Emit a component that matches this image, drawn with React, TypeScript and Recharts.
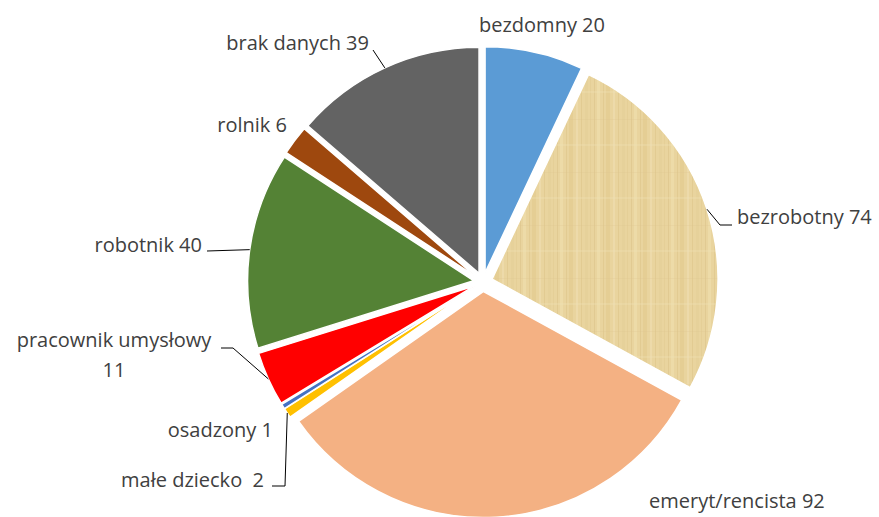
import React from "react";
import { Pie, PieChart, Sector } from "recharts";

// Occupation breakdown, clockwise from 12 o'clock.
const CATEGORIES = [
  "bezdomny",
  "bezrobotny",
  "emeryt/rencista",
  "małe dziecko",
  "osadzony",
  "pracownik umysłowy",
  "robotnik",
  "rolnik",
  "brak danych",
];
const VALUES = [20, 74, 92, 2, 1, 11, 40, 6, 39];
const COLORS = [
  "#5B9BD5",
  "url(#papyrus)",
  "#F4B183",
  "#FFC000",
  "#4472C4",
  "#FF0000",
  "#548235",
  "#9E480E",
  "#636363",
];

// Where each data label sits, and the bends of its leader line (if any).
type LabelSpot = {
  x: number;
  y: number;
  anchor: "start" | "middle" | "end";
  leader?: [number, number][];
  text?: string[];
};
const LABEL_SPOTS: LabelSpot[] = [
  { x: 479, y: 32, anchor: "start" },
  { x: 737, y: 224, anchor: "start", leader: [[720, 225], [732, 225]] },
  { x: 649, y: 508, anchor: "start" },
  { x: 264, y: 487, anchor: "end", leader: [[285, 486], [272, 486]], text: ["małe dziecko\u00a0 2"] },
  { x: 273, y: 437, anchor: "end" },
  { x: 114, y: 347, anchor: "middle", leader: [[233, 348], [221, 348]], text: ["pracownik umysłowy", "11"] },
  { x: 202, y: 252, anchor: "end", leader: [[207, 251]] },
  { x: 287, y: 132, anchor: "end" },
  { x: 369, y: 50, anchor: "end", leader: [[373, 50]] },
];

const EXPLODE = 9.5;
const RAD = Math.PI / 180;

const data = CATEGORIES.map((name, i) => ({ name, value: VALUES[i] }));

// Pie sectors are drawn here, pulled out along their bisector like an exploded Excel pie.
function renderSlice(props: any) {
  const { cx, cy, innerRadius, outerRadius, startAngle, endAngle, index, name, value } = props;
  const mid = (startAngle + endAngle) / 2;
  const dx = EXPLODE * Math.cos(mid * RAD);
  const dy = -EXPLODE * Math.sin(mid * RAD);
  const edge: [number, number] = [
    cx + (outerRadius + EXPLODE) * Math.cos(mid * RAD),
    cy - (outerRadius + EXPLODE) * Math.sin(mid * RAD),
  ];
  const spot = LABEL_SPOTS[index];
  const lines = spot.text ?? [`${name} ${value}`];
  const pts = spot.leader ? [edge, ...spot.leader] : null;

  return (
    <g key={`slice-${index}`}>
      <Sector
        cx={cx + dx}
        cy={cy + dy}
        innerRadius={innerRadius}
        outerRadius={outerRadius}
        startAngle={startAngle}
        endAngle={endAngle}
        fill={COLORS[index]}
        stroke="#ffffff"
        strokeWidth={1.5}
      />
      {pts && (
        <polyline
          points={pts.map((p) => p.join(",")).join(" ")}
          fill="none"
          stroke="#000000"
          strokeWidth={1}
        />
      )}
      <text
        x={spot.x}
        y={spot.y}
        textAnchor={spot.anchor}
        fill="#404040"
        fontSize={20}
        fontFamily="'Open Sans', sans-serif"
      >
        {lines.map((t, k) => (
          <tspan key={k} x={spot.x} dy={k === 0 ? 0 : 30}>
            {t}
          </tspan>
        ))}
      </text>
    </g>
  );
}

export default function App() {
  return (
    <div style={{ position: "absolute", left: 0, top: 0, width: 879, height: 517, background: "#ffffff" }}>
      <PieChart width={879} height={517} margin={{ top: 0, right: 0, bottom: 0, left: 0 }}>
        <defs>
          {/* rough papyrus look for the "bezrobotny" slice */}
          <pattern id="papyrus" patternUnits="userSpaceOnUse" width="37" height="53">
            <rect width="37" height="53" fill="#E9D49E" />
            <rect x="2" width="1" height="53" fill="#D8C084" opacity="0.45" />
            <rect x="5" width="3" height="53" fill="#F0DFB0" opacity="0.55" />
            <rect x="11" width="1" height="53" fill="#D2B97C" opacity="0.35" />
            <rect x="14" width="4" height="53" fill="#E2CA8E" opacity="0.6" />
            <rect x="21" width="2" height="53" fill="#F2E3B9" opacity="0.45" />
            <rect x="26" width="1" height="53" fill="#D6BD80" opacity="0.4" />
            <rect x="30" width="3" height="53" fill="#E5CF97" opacity="0.6" />
            <rect x="35" width="1" height="53" fill="#DCC48A" opacity="0.35" />
            <rect y="13" width="37" height="1" fill="#DCC58E" opacity="0.25" />
            <rect y="38" width="37" height="2" fill="#F1E2B6" opacity="0.3" />
          </pattern>
        </defs>
        <Pie
          data={data}
          dataKey="value"
          nameKey="name"
          cx={483}
          cy={282}
          outerRadius={226}
          startAngle={90}
          endAngle={-270}
          fill="none"
          stroke="none"
          label={renderSlice}
          labelLine={false}
          isAnimationActive={false}
        />
      </PieChart>
    </div>
  );
}
